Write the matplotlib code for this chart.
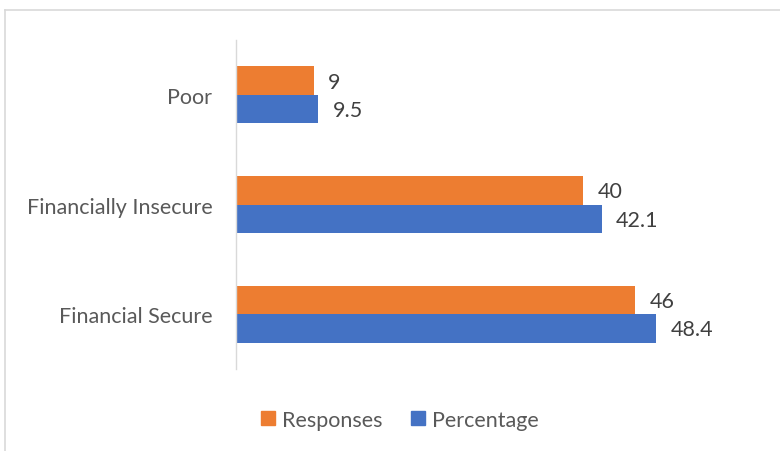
import numpy as np
import matplotlib
matplotlib.use("Agg")
import matplotlib.pyplot as plt
from matplotlib.lines import Line2D

plt.rcParams['font.family'] = ['Lato', 'DejaVu Sans']

categories = ["Financial Secure", "Financially Insecure", "Poor"]
responses = [46, 40, 9]
percentage = [48.4, 42.1, 9.5]

orange = "#ED7D31"
blue = "#4472C4"
text_grey = "#595959"

fig = plt.figure(figsize=(7.8, 4.52), dpi=100)
ax = fig.add_axes([236 / 780, 1 - 370 / 452, (757 - 236) / 780, (370 - 41) / 452])

y = np.arange(len(categories))
h = 0.26
bars_r = ax.barh(y + h / 2, responses, height=h, color=orange, label="Responses")
bars_p = ax.barh(y - h / 2, percentage, height=h, color=blue, label="Percentage")

ax.set_xlim(0, 60)
ax.set_ylim(-0.5, len(categories) - 0.5)

for bars, vals in ((bars_r, responses), (bars_p, percentage)):
    for b, v in zip(bars, vals):
        ax.annotate(f"{v:g}", (v, b.get_y() + b.get_height() / 2),
                    xytext=(14, -1), textcoords="offset pixels",
                    va="center", ha="left", fontsize=15.5, color="#404040")

ax.set_yticks(y)
ax.set_yticklabels(categories, fontsize=15.5, color=text_grey)
ax.tick_params(axis="y", length=0, pad=17)
ax.set_xticks([])

for s in ("top", "right", "bottom"):
    ax.spines[s].set_visible(False)
ax.spines["left"].set_color("#D9D9D9")
ax.spines["left"].set_linewidth(1.0)

handles = [Line2D([], [], marker="s", linestyle="", markersize=10, color=orange),
           Line2D([], [], marker="s", linestyle="", markersize=10, color=blue)]
fig.legend(handles, ["Responses", "Percentage"], loc="center", bbox_to_anchor=(400 / 780, 1 - 421 / 452),
           ncol=2, frameon=False, fontsize=15.5, handlelength=0.7, handletextpad=0.3,
           columnspacing=1.3, labelcolor=text_grey)

# chart area frame
fig.add_artist(Line2D([5 / 780, 1.0], [1 - 11 / 452] * 2, color="#D9D9D9", lw=1.2))
fig.add_artist(Line2D([5 / 780] * 2, [0.0, 1 - 11 / 452], color="#D9D9D9", lw=1.2))

fig.savefig("out.png", dpi=100)
